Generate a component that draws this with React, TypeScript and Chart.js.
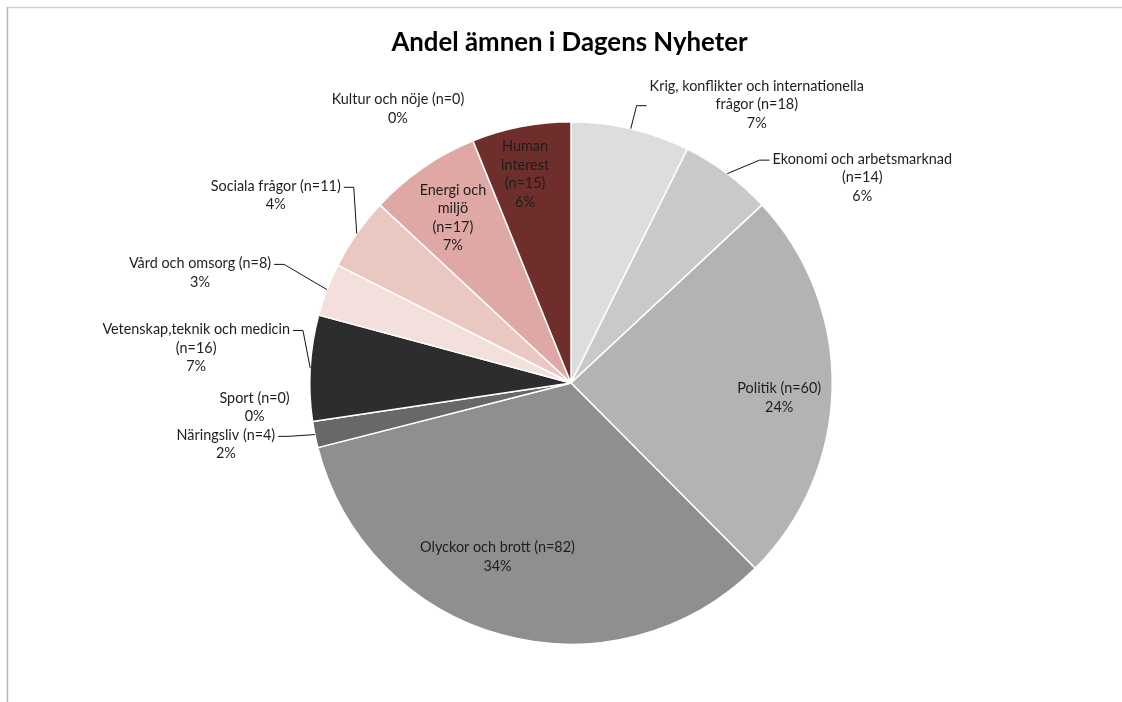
import React, { useEffect, useRef } from "react";
import { Chart, registerables } from "chart.js";

Chart.register(...registerables);

const title = "Andel ämnen i Dagens Nyheter";

const categories = [
  "Krig, konflikter och internationella frågor",
  "Ekonomi och arbetsmarknad",
  "Politik",
  "Olyckor och brott",
  "Näringsliv",
  "Sport",
  "Vetenskap,teknik och medicin",
  "Vård och omsorg",
  "Sociala frågor",
  "Energi och miljö",
  "Kultur och nöje",
  "Human interest",
];
const counts = [18, 14, 60, 82, 4, 0, 16, 8, 11, 17, 0, 15];
const shares = [7, 6, 24, 34, 2, 0, 7, 3, 4, 7, 0, 6];
const colors = [
  "#dddddd",
  "#c9c9c9",
  "#b3b3b3",
  "#8f8f8f",
  "#686868",
  "#8f8f8f",
  "#2d2d2d",
  "#f3e0dd",
  "#ebc7c2",
  "#dfa8a4",
  "#dfa8a4",
  "#6e2e2c",
];

// Label layout: offset of the text block centre from the slice's outer-edge midpoint,
// wrap width, whether "(n=..)" starts its own line, and which text line the leader
// line attaches to (null = no leader).
const labelLayout = [
  { dx: 126, dy: -24, wrap: 225, nLine: false, leader: 1 },
  { dx: 135, dy: 4, wrap: 200, nLine: true, leader: 0 },
  { dx: -53, dy: 10, wrap: 300, nLine: false, leader: null },
  { dx: -4, dy: -78, wrap: 300, nLine: false, leader: null },
  { dx: -89, dy: 10, wrap: 200, nLine: false, leader: 0 },
  { dx: -58, dy: -14, wrap: 200, nLine: false, leader: null },
  { dx: -114, dy: -20, wrap: 210, nLine: true, leader: 0 },
  { dx: -127, dy: -17, wrap: 200, nLine: false, leader: 0 },
  { dx: -81, dy: -38, wrap: 200, nLine: false, leader: 0 },
  { dx: 30, dy: 50, wrap: 76, nLine: true, leader: null },
  { dx: -75, dy: -32, wrap: 200, nLine: false, leader: null },
  { dx: 4, dy: 48, wrap: 62, nLine: true, leader: null },
];

const LABEL_FONT = "14.4px Lato";
const LINE_H = 18.5;

function wrapText(ctx: CanvasRenderingContext2D, text: string, maxW: number): string[] {
  const words = text.split(" ");
  const lines: string[] = [];
  let cur = "";
  for (const w of words) {
    const test = cur ? cur + " " + w : w;
    if (cur && ctx.measureText(test).width > maxW) {
      lines.push(cur);
      cur = w;
    } else {
      cur = test;
    }
  }
  if (cur) lines.push(cur);
  return lines;
}

const decorPlugin = {
  id: "decor",
  beforeDraw(chart: any) {
    const ctx = chart.ctx as CanvasRenderingContext2D;
    ctx.save();
    ctx.fillStyle = "#ffffff";
    ctx.fillRect(0, 0, chart.width, chart.height);
    ctx.strokeStyle = "#d2d2d2";
    ctx.lineWidth = 1.5;
    ctx.beginPath();
    ctx.moveTo(7.5, 7.5);
    ctx.lineTo(chart.width, 7.5);
    ctx.stroke();
    ctx.strokeStyle = "#b5b5b5";
    ctx.beginPath();
    ctx.moveTo(7.5, chart.height);
    ctx.lineTo(7.5, 7);
    ctx.stroke();
    // title
    ctx.fillStyle = "#000000";
    ctx.font = "bold 25.8px Lato";
    ctx.textAlign = "center";
    ctx.textBaseline = "middle";
    const meta = chart.getDatasetMeta(0);
    const cx = meta.data.length ? meta.data[0].x : chart.width / 2;
    ctx.fillText(title, cx - 1.5, 43);
    ctx.restore();
  },
  afterDraw(chart: any) {
    const ctx = chart.ctx as CanvasRenderingContext2D;
    const meta = chart.getDatasetMeta(0);
    ctx.save();
    ctx.font = LABEL_FONT;
    ctx.fillStyle = "#1e1e1e";
    ctx.textAlign = "center";
    ctx.textBaseline = "middle";
    meta.data.forEach((arc: any, i: number) => {
      const p = arc.getProps(["x", "y", "startAngle", "endAngle", "outerRadius"], true);
      const mid = (p.startAngle + p.endAngle) / 2;
      const ex = p.x + Math.cos(mid) * p.outerRadius;
      const ey = p.y + Math.sin(mid) * p.outerRadius;
      const L = labelLayout[i];
      const bx = ex + L.dx;
      const by = ey + L.dy;
      const nText = `(n=${counts[i]})`;
      const lines = L.nLine
        ? [...wrapText(ctx, categories[i], L.wrap), nText]
        : wrapText(ctx, `${categories[i]} ${nText}`, L.wrap);
      lines.push(`${shares[i]}%`);
      const top = by - ((lines.length - 1) * LINE_H) / 2;
      let maxW = 0;
      lines.forEach((ln, k) => {
        maxW = Math.max(maxW, ctx.measureText(ln).width);
        ctx.fillText(ln, bx, top + k * LINE_H);
      });
      if (L.leader !== null) {
        const ly = top + L.leader * LINE_H + 1;
        const right = L.dx > 0;
        const ax = right ? bx - maxW / 2 - 3 : bx + maxW / 2 + 3;
        const sx = right ? ax - 10 : ax + 10;
        ctx.save();
        ctx.strokeStyle = "#111111";
        ctx.lineWidth = 1;
        ctx.beginPath();
        ctx.moveTo(ax, ly);
        ctx.lineTo(sx, ly);
        ctx.lineTo(ex, ey);
        ctx.stroke();
        ctx.restore();
      }
    });
    ctx.restore();
  },
};

export default function App() {
  const ref = useRef<HTMLCanvasElement | null>(null);
  useEffect(() => {
    if (!ref.current) return;
    const chart = new Chart(ref.current, {
      type: "pie",
      data: {
        labels: categories,
        datasets: [
          {
            data: counts,
            backgroundColor: colors,
            borderColor: "#ffffff",
            borderWidth: 1.5,
          },
        ],
      },
      options: {
        animation: false,
        responsive: false,
        devicePixelRatio: 1,
        layout: { padding: { top: 121, bottom: 57, left: 309, right: 289 } },
        plugins: {
          legend: { display: false },
          tooltip: { enabled: false },
          title: { display: false },
        },
      },
      plugins: [decorPlugin],
    });
    return () => chart.destroy();
  }, []);
  return (
    <canvas
      ref={ref}
      width={1122}
      height={702}
      style={{ position: "fixed", left: 0, top: 0, width: 1122, height: 702 }}
    />
  );
}
